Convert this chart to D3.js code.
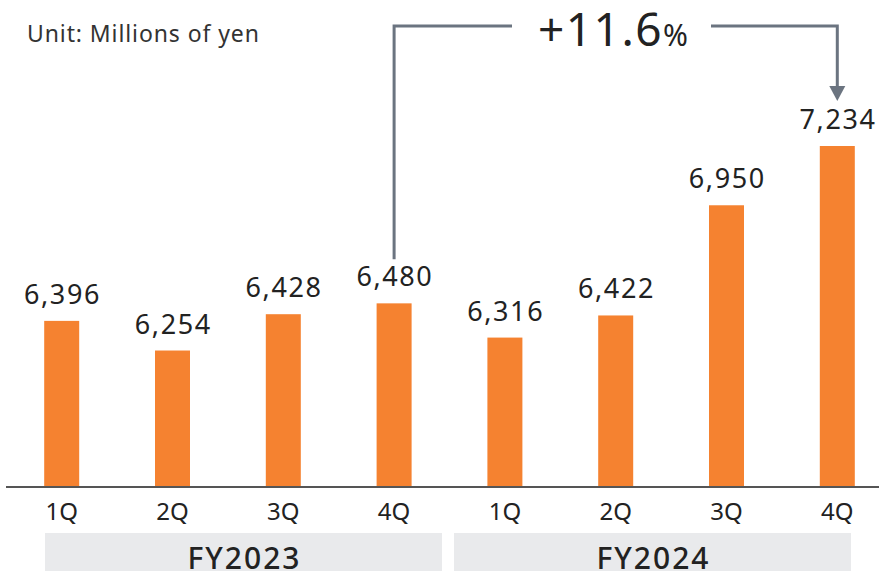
<!DOCTYPE html>
<html>
<head>
<meta charset="utf-8">
<script src="https://cdn.jsdelivr.net/npm/d3@7"></script>
<style>
  body { margin: 0; background: #fff; }
  svg { display: block; font-family: "Noto Sans", sans-serif; }
</style>
</head>
<body>
<script>
// data
const quarters = ["1Q", "2Q", "3Q", "4Q", "1Q", "2Q", "3Q", "4Q"];
const sales = [6396, 6254, 6428, 6480, 6316, 6422, 6950, 7234];
const years = ["FY2023", "FY2024"];
const growthText = "+11.6";

const W = 879, H = 571;
const orange = "#f58230";
const grey = "#6b7480";

const svg = d3.select("body").append("svg").attr("width", W).attr("height", H);

const idx = d3.range(sales.length);
const x = d3.scalePoint().domain(idx).range([61.7, 837.3]);
const y = d3.scaleLinear().domain([5600, 7234]).range([487, 146]);
const barW = 35;

// unit note
svg.append("text")
    .attr("x", 27).attr("y", 42)
    .attr("font-size", 23).attr("fill", "#333")
    .attr("letter-spacing", 0.9)
    .text("Unit: Millions of yen");

// bars
svg.selectAll("rect.bar").data(idx).join("rect")
    .attr("class", "bar")
    .attr("x", i => x(i) - barW / 2)
    .attr("y", i => y(sales[i]))
    .attr("width", barW)
    .attr("height", i => y(5600) - y(sales[i]))
    .attr("fill", orange);

// value labels
svg.selectAll("text.val").data(idx).join("text")
    .attr("class", "val")
    .attr("x", i => x(i) + 0.8)
    .attr("y", i => y(sales[i]) - 17)
    .attr("text-anchor", "middle")
    .attr("font-size", 27).attr("fill", "#222")
    .attr("letter-spacing", 1.6)
    .text(i => d3.format(",")(sales[i]));

// baseline
svg.append("line")
    .attr("x1", 6).attr("x2", W)
    .attr("y1", y(5600)).attr("y2", y(5600))
    .attr("stroke", "#555").attr("stroke-width", 2);

// quarter labels
svg.selectAll("text.q").data(idx).join("text")
    .attr("class", "q")
    .attr("x", i => x(i)).attr("y", 520)
    .attr("text-anchor", "middle")
    .attr("font-size", 24).attr("fill", "#222")
    .text(i => quarters[i]);

// fiscal year boxes
const yb = d3.scaleBand().domain(years).range([45, 851]).paddingInner(0.0293);
svg.selectAll("rect.yr").data(years).join("rect")
    .attr("class", "yr")
    .attr("x", d => yb(d)).attr("y", 533)
    .attr("width", yb.bandwidth()).attr("height", 40)
    .attr("fill", "#e9eaec");
svg.selectAll("text.yr").data(years).join("text")
    .attr("class", "yr")
    .attr("x", d => yb(d) + yb.bandwidth() / 2 + 1).attr("y", 569)
    .attr("text-anchor", "middle")
    .attr("font-size", 30).attr("font-weight", 500).attr("fill", "#222")
    .attr("letter-spacing", 2)
    .text(d => d);

// growth bracket from FY2023 4Q to FY2024 4Q
const x0 = x(3), x1 = x(7), bracketY = 26;
svg.append("path")
    .attr("d", `M${x0},${y(sales[3]) - 44} V${bracketY} H512`)
    .attr("fill", "none").attr("stroke", grey).attr("stroke-width", 3);
svg.append("path")
    .attr("d", `M711,${bracketY} H${x1} V88`)
    .attr("fill", "none").attr("stroke", grey).attr("stroke-width", 3);
svg.append("path")
    .attr("d", `M${x1 - 8},86 L${x1 + 8},86 L${x1},101 Z`)
    .attr("fill", grey);

const g = svg.append("text")
    .attr("x", 613).attr("y", 46)
    .attr("text-anchor", "middle")
    .attr("fill", "#222");
g.append("tspan").attr("font-size", 46).attr("letter-spacing", 1.5).text(growthText);
g.append("tspan").attr("font-size", 30).text("%");
</script>
</body>
</html>
